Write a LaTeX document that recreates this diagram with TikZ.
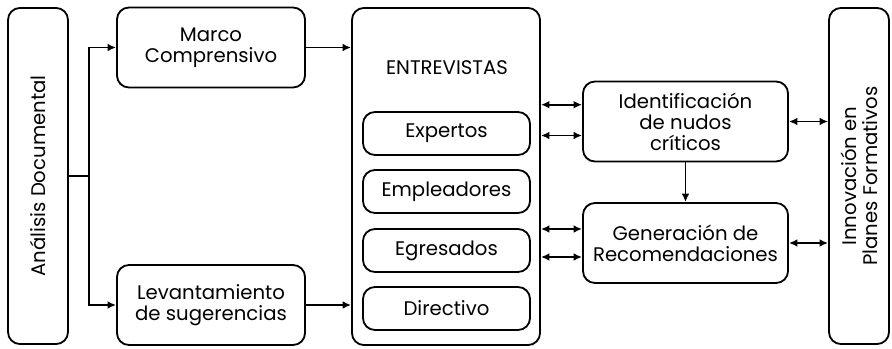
\documentclass[tikz,border=0pt]{standalone}
\usepackage{fontspec}
\setmainfont{Poppins}
\usepackage{tikz}
\usetikzlibrary{positioning,arrows,arrows.meta}

\begin{document}
\begin{tikzpicture}[>={Latex[length=6pt,width=5.5pt]},line width=1.3pt,x=0.025cm,y=-0.025cm,
    box/.style={draw,rounded corners=0.3cm,align=center,inner sep=2pt,
      font=\fontsize{14}{15}\selectfont,minimum width=4.7cm,minimum height=2cm},
    tall/.style={draw,rounded corners=0.3cm,align=center,inner sep=2pt,
      font=\fontsize{14}{15}\selectfont,minimum width=1.5cm,minimum height=8.4cm},
    sub/.style={draw,rounded corners=0.3cm,font=\fontsize{14}{15}\selectfont,
      minimum width=4.175cm,minimum height=1.075cm}]

    \useasboundingbox (0,0) rectangle (892,348);

    % The boxes
	\node [tall] at (38,176) (AD) {};
	\node [rotate=90,font=\fontsize{14}{15}\selectfont] at (AD.center) {Análisis Documental};
	\node [box] at (211,47.5) (MC) {Marco\\Comprensivo};
	\node [box] at (211,305) (LS) {Levantamiento\\de sugerencias};

	\node [draw,rounded corners=0.3cm,minimum width=4.7cm,minimum height=8.425cm] at (446,176.5) (E) {};
	\node [font=\fontsize{14}{15}\selectfont] at (447,68) (ET) {ENTREVISTAS};
	\node [sub] at (446.5,133.5) (Exp) {Expertos};
	\node [sub] at (446.5,191.5) (Emp) {Empleadores};
	\node [sub] at (446.5,250.5) (Egr) {Egresados};
	\node [sub] at (446.5,308.5) (Dir) {Directivo};

	\node [box,minimum width=5.125cm] at (685.5,121.5) (IN) {Identificación\\de nudos\\críticos};
	\node [box,minimum width=5.125cm] at (685.5,243) (GR) {Generación de\\Recomendaciones};

	\node [tall] at (859,176) (IP) {};
	\node [rotate=90,align=center,font=\fontsize{14}{15}\selectfont] at (IP.center) {Innovación en\\Planes Formativos};

	% Edges
	\draw (AD.east) -- ++(20,0) coordinate (br);
	\draw[->] (br) |- (MC.west);
	\draw[->] (br) |- (LS.west);
	\draw[->] (MC.east) -- (MC.east -| E.west);
	\draw[->] (LS.east) -- (LS.east -| E.west);

	\draw[<->] ([yshift=0.42cm]IN.west -| E.east) -- ([yshift=0.42cm]IN.west);
	\draw[<->] ([yshift=-0.35cm]IN.west -| E.east) -- ([yshift=-0.35cm]IN.west);
	\draw[<->] ([yshift=0.35cm]GR.west -| E.east) -- ([yshift=0.35cm]GR.west);
	\draw[<->] ([yshift=-0.35cm]GR.west -| E.east) -- ([yshift=-0.35cm]GR.west);

	\draw[->] (IN.south) -- (GR.north);
	\draw[<->] (IN.east) -- (IN.east -| IP.west);
	\draw[<->] (GR.east) -- (GR.east -| IP.west);

\end{tikzpicture}
\end{document}
